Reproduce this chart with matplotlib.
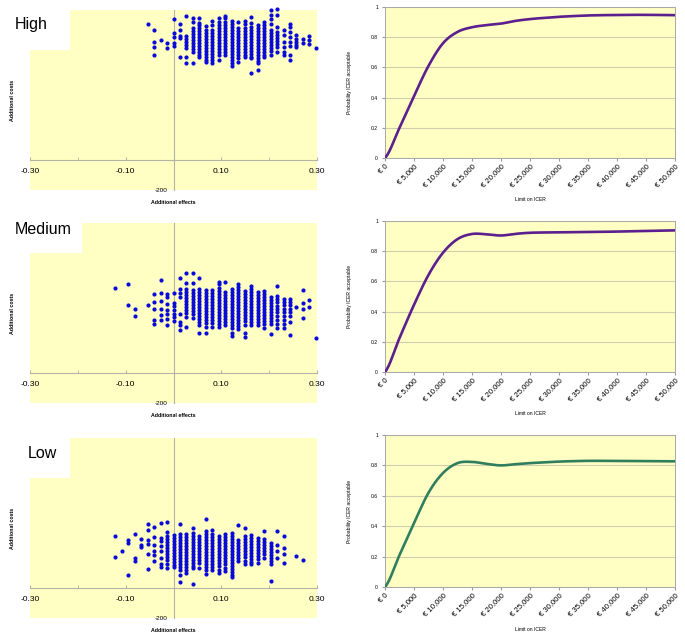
import numpy as np
import matplotlib
matplotlib.use('Agg')
import matplotlib.pyplot as plt
from matplotlib.patches import Rectangle

plt.rcParams['font.family'] = ['Liberation Sans', 'DejaVu Sans']

# ---- scatter data: effect columns (x) and the cost values (y) in each column ----
cols = [-0.122, -0.108, -0.095, -0.081, -0.068, -0.054, -0.041, -0.027, -0.014, 0.000,
        0.014, 0.027, 0.041, 0.054, 0.068, 0.081, 0.095, 0.108, 0.122, 0.135,
        0.149, 0.162, 0.176, 0.189, 0.203, 0.216, 0.230, 0.243, 0.257, 0.270,
        0.284, 0.297]

high_costs = [
    [], [], [], [], [],
    [910],
    [870, 790, 755, 700],
    [800],
    [780, 745],
    [940, 850, 820, 780, 760],
    [910, 870, 830, 815, 690],
    [960, 825, 805, 785, 765, 745, 685, 650],
    [950, 920, 880, 860, 840, 820, 800, 780, 760, 740, 720, 650],
    [945, 915, 900, 880, 860, 840, 820, 800, 780, 760, 740, 720, 700, 690],
    [895, 865, 845, 825, 805, 785, 765, 745, 725, 705, 685, 665, 655],
    [930, 900, 865, 845, 825, 805, 785, 765, 745, 725, 705, 685, 665, 645],
    [950, 920, 900, 880, 860, 840, 820, 800, 780, 760, 740, 720, 700, 670],
    [960, 945, 920, 900, 880, 860, 840, 820, 800, 780, 760, 740, 720, 700],
    [930, 910, 890, 870, 850, 830, 810, 790, 770, 750, 730, 710, 690, 670, 645, 630],
    [920, 880, 860, 840, 820, 800, 780, 760, 740, 720, 700, 680, 655],
    [930, 905, 880, 860, 840, 820, 800, 780, 760, 740, 720, 700, 690],
    [955, 915, 890, 870, 850, 830, 810, 790, 770, 750, 730, 710, 690, 680, 580],
    [900, 880, 860, 840, 820, 800, 780, 760, 740, 720, 700, 680, 660, 645, 600],
    [920, 900, 880, 860, 840, 820, 800, 780, 760, 740, 720, 700, 690],
    [1000, 965, 940, 910, 865, 845, 825, 805, 785, 765, 745, 725, 700],
    [1005, 965, 890, 855, 835, 815, 795, 775, 755, 720],
    [865, 835, 790, 755, 720, 700],
    [905, 890, 855, 820, 790, 760, 700, 670],
    [835, 810, 790, 765, 755],
    [805, 780],
    [825, 800, 775],
    [745],
]

medium_costs = [
    [570],
    [],
    [595, 455],
    [425, 380],
    [],
    [455],
    [530, 475, 430, 355, 325],
    [620, 535, 480, 430, 385, 355],
    [525, 505, 460, 420, 395, 360, 320],
    [535, 465, 445, 420, 395, 375, 345],
    [635, 560, 535, 505, 395, 340, 320, 285],
    [665, 600, 560, 540, 520, 500, 480, 460, 440, 420, 400, 375, 310],
    [665, 600, 555, 535, 515, 495, 475, 455, 435, 415, 395, 370],
    [635, 560, 540, 520, 500, 480, 460, 440, 420, 400, 380, 360, 340, 320, 265],
    [555, 535, 515, 495, 475, 455, 435, 415, 395, 375, 355, 335, 310, 265],
    [555, 535, 515, 495, 475, 455, 435, 415, 395, 375, 355, 335, 310],
    [605, 595, 565, 545, 525, 505, 485, 465, 445, 425, 405, 385, 365, 345, 325, 305],
    [605, 540, 520, 500, 480, 460, 440, 420, 400, 380, 360, 340, 320],
    [560, 540, 520, 500, 480, 460, 440, 420, 400, 380, 360, 340, 320, 300, 265, 245],
    [595, 575, 555, 535, 515, 495, 475, 455, 435, 415, 395, 375, 355, 335, 315, 295],
    [550, 530, 510, 490, 470, 450, 430, 410, 390, 370, 350, 320, 265, 240],
    [580, 560, 540, 520, 500, 480, 460, 440, 420, 400, 380, 360, 340, 320],
    [540, 520, 500, 480, 460, 440, 420, 400, 380, 360, 340, 320],
    [545, 525, 505, 485, 465, 445, 425, 405, 385, 365, 345, 330, 300],
    [505, 485, 465, 445, 425, 405, 385, 365, 345, 330, 260],
    [580, 515, 495, 475, 450, 430, 405, 380, 355, 330, 300],
    [495, 475, 455, 430, 405, 380, 355, 330, 300],
    [495, 475, 455, 430, 405, 380, 340, 255],
    [440],
    [555, 465, 430, 370],
    [485, 440],
    [235],
]

low_costs = [
    [345, 205],
    [250],
    [320, 300, 85],
    [360, 200, 180],
    [325, 290, 275],
    [430, 385, 320, 295, 230, 130],
    [405, 340, 290, 250, 220, 180],
    [435, 335, 315, 280, 245, 200, 160, 140],
    [440, 375, 345, 325, 305, 285, 265, 245, 225, 205, 185, 160, 135],
    [355, 335, 315, 295, 275, 255, 235, 215, 195, 175, 155, 140],
    [430, 360, 340, 320, 300, 280, 260, 240, 220, 200, 180, 160, 140, 120, 90, 40],
    [360, 340, 320, 300, 280, 260, 240, 220, 200, 180, 160, 140, 120, 100],
    [400, 370, 350, 330, 310, 290, 270, 250, 230, 210, 190, 170, 150, 135, 25],
    [345, 325, 305, 285, 265, 245, 225, 205, 185, 165, 135],
    [460, 380, 360, 340, 320, 300, 280, 260, 240, 220, 200, 180, 160, 140, 120, 95],
    [390, 360, 340, 320, 300, 280, 260, 240, 220, 200, 180, 160, 140, 120],
    [345, 325, 305, 285, 265, 245, 225, 205, 185, 165, 145, 120, 100],
    [360, 340, 320, 300, 280, 260, 240, 220, 200, 180, 160, 135, 115],
    [370, 350, 330, 310, 290, 270, 250, 230, 210, 190, 170, 150, 130, 110, 90, 75],
    [420, 320, 300, 280, 260, 240, 220, 200, 180],
    [400, 345, 325, 305, 285, 265, 245, 225, 205, 180, 160],
    [355, 335, 315, 295, 275, 255, 235, 215, 195, 175, 160],
    [335, 315, 295, 275, 255, 235, 215, 195, 170],
    [380, 325, 305, 285, 265, 245, 225, 200],
    [300, 280, 260, 240, 220, 200, 180, 160, 50],
    [380, 290, 250, 200],
    [345, 270, 225, 170],
    [],
    [215],
    [190],
    [],
    [],
]

# ---- acceptability curves ----
limits = [0, 2500, 5000, 7500, 10000, 12500, 15000, 17500, 20000, 22500, 25000,
          27500, 30000, 32500, 35000, 37500, 40000, 42500, 45000, 47500, 50000]
prob_high = [0.0, 0.20, 0.41, 0.61, 0.76, 0.835, 0.866, 0.88, 0.89, 0.908, 0.92,
             0.928, 0.935, 0.94, 0.944, 0.946, 0.947, 0.948, 0.948, 0.947, 0.946]
prob_medium = [0.0, 0.225, 0.445, 0.643, 0.79, 0.88, 0.914, 0.912, 0.904, 0.915, 0.922,
               0.924, 0.925, 0.926, 0.927, 0.928, 0.93, 0.932, 0.934, 0.936, 0.938]
prob_low = [0.0, 0.21, 0.42, 0.62, 0.75, 0.815, 0.823, 0.81, 0.80, 0.808, 0.815,
            0.82, 0.825, 0.828, 0.83, 0.83, 0.83, 0.829, 0.828, 0.827, 0.827]

eff_ticks = [-0.30, -0.10, 0.10, 0.30]
limit_labels = ['€ 0', '€ 5,000', '€ 10,000', '€ 15,000', '€ 20,000', '€ 25,000',
                '€ 30,000', '€ 35,000', '€ 40,000', '€ 45,000', '€ 50,000']
prob_ticks = [0, 0.2, 0.4, 0.6, 0.8, 1]

YELLOW = '#ffffc4'
AXIS_GREY = '#b4b4a4'
GRID = '#cfcfae'
DOT = '#0a0ad8'

W, H = 685, 641


def fig_rect(x0, y0, x1, y1):
    """pixel box (top-left origin) -> figure fraction rect"""
    return [x0 / W, 1 - y1 / H, (x1 - x0) / W, (y1 - y0) / H]


def smooth(x, y, n=16):
    """Catmull-Rom through the points, like a smoothed Excel line"""
    x = np.asarray(x, float)
    y = np.asarray(y, float)
    xs, ys = [], []
    for i in range(len(x) - 1):
        y0 = y[i - 1] if i > 0 else y[i]
        y3 = y[i + 2] if i + 2 < len(y) else y[i + 1]
        y1, y2 = y[i], y[i + 1]
        t = np.linspace(0, 1, n, endpoint=False)
        yy = 0.5 * ((2 * y1) + (-y0 + y2) * t + (2 * y0 - 5 * y1 + 4 * y2 - y3) * t ** 2
                    + (-y0 + 3 * y1 - 3 * y2 + y3) * t ** 3)
        xs.append(x[i] + (x[i + 1] - x[i]) * t)
        ys.append(yy)
    xs.append([x[-1]])
    ys.append([y[-1]])
    return np.concatenate(xs), np.concatenate(ys)


def scatter_panel(fig, rect, costs):
    ax = fig.add_axes(rect)
    ax.set_facecolor(YELLOW)
    xs, ys = [], []
    for cx, cy in zip(cols, costs):
        xs += [cx] * len(cy)
        ys += cy
    ax.scatter(xs, ys, s=9, color=DOT, linewidths=0, zorder=3, clip_on=False)
    ax.set_xlim(-0.30, 0.30)
    ax.set_ylim(-200, 1000)
    for s in ['top', 'right']:
        ax.spines[s].set_visible(False)
    ax.spines['bottom'].set_position(('data', 0))
    ax.spines['left'].set_position(('data', 0))
    ax.spines['bottom'].set_color(AXIS_GREY)
    ax.spines['left'].set_color(AXIS_GREY)
    ax.spines['bottom'].set_linewidth(0.8)
    ax.spines['left'].set_linewidth(0.8)
    ax.set_xticks(eff_ticks)
    ax.set_xticklabels(['%.2f' % v for v in eff_ticks])
    ax.set_xticks([-0.2, 0.0, 0.2], minor=True)
    ax.set_yticks([-200])
    ax.set_yticklabels(['-200'])
    ax.tick_params(axis='x', which='both', length=2, direction='in', color=AXIS_GREY,
                   labelsize=6, pad=5.5)
    ax.tick_params(axis='y', length=0, labelsize=4.6, pad=4)
    ax.set_xlabel('Additional effects', fontsize=3.8, fontweight='bold')
    ax.set_ylabel('Additional costs', fontsize=3.8, fontweight='bold')
    ax.xaxis.set_label_coords(0.5, -0.058)
    ax.yaxis.set_label_coords(-0.052, 0.5)
    return ax


def curve_panel(fig, rect, probs, color):
    ax = fig.add_axes(rect)
    ax.set_facecolor(YELLOW)
    sx, sy = smooth(limits, probs)
    ax.plot(sx, sy, color=color, lw=1.9, solid_capstyle='round', zorder=3)
    ax.set_xlim(0, 50000)
    ax.set_ylim(0, 1)
    ax.set_yticks(prob_ticks)
    ax.set_yticklabels(['0', '0.2', '0.4', '0.6', '0.8', '1'])
    ax.grid(axis='y', color=GRID, lw=0.8)
    ax.set_axisbelow(True)
    ax.set_xticks(np.arange(0, 50001, 5000))
    ax.set_xticklabels(limit_labels, rotation=45, ha='right', va='top',
                       rotation_mode='anchor')
    for s in ax.spines.values():
        s.set_color('#a8a8a8')
        s.set_linewidth(0.7)
    ax.tick_params(axis='y', length=2, color='#999999', labelsize=3.6, pad=3)
    ax.tick_params(axis='x', length=2, color='#999999', labelsize=5.6, pad=1.5)
    ax.set_xlabel('Limit on ICER', fontsize=3.6)
    ax.set_ylabel('Probability ICER acceptable', fontsize=3.6)
    ax.xaxis.set_label_coords(0.5, -0.26)
    ax.yaxis.set_label_coords(-0.114, 0.5)
    return ax


fig = plt.figure(figsize=(W / 100, H / 100), dpi=100)
fig.patch.set_facecolor('white')

scatter_panel(fig, fig_rect(30, 10, 317, 190), high_costs)
scatter_panel(fig, fig_rect(30, 223, 317, 403), medium_costs)
scatter_panel(fig, fig_rect(30, 438, 317, 618), low_costs)

curve_panel(fig, fig_rect(385, 7, 675, 158), prob_high, '#5c1f8e')
curve_panel(fig, fig_rect(385, 221, 675, 372), prob_medium, '#5c1f8e')
curve_panel(fig, fig_rect(385, 435, 675, 587), prob_low, '#2f7f5e')

# white label boxes over the top-left corner of each scatter
for (x1, y0, y1, tx, ty, label) in [(70, 0, 50, 15, 24, 'High'),
                                    (82, 215, 253, 15, 229, 'Medium'),
                                    (70, 430, 478, 28, 454, 'Low')]:
    fig.add_artist(Rectangle((0, 1 - y1 / H), x1 / W, (y1 - y0) / H,
                             transform=fig.transFigure, facecolor='white',
                             edgecolor='none', zorder=10))
    fig.text(tx / W, 1 - ty / H, label, fontsize=11.5, ha='left', va='center',
             zorder=11)

fig.savefig('out.png', dpi=100, facecolor='white')
